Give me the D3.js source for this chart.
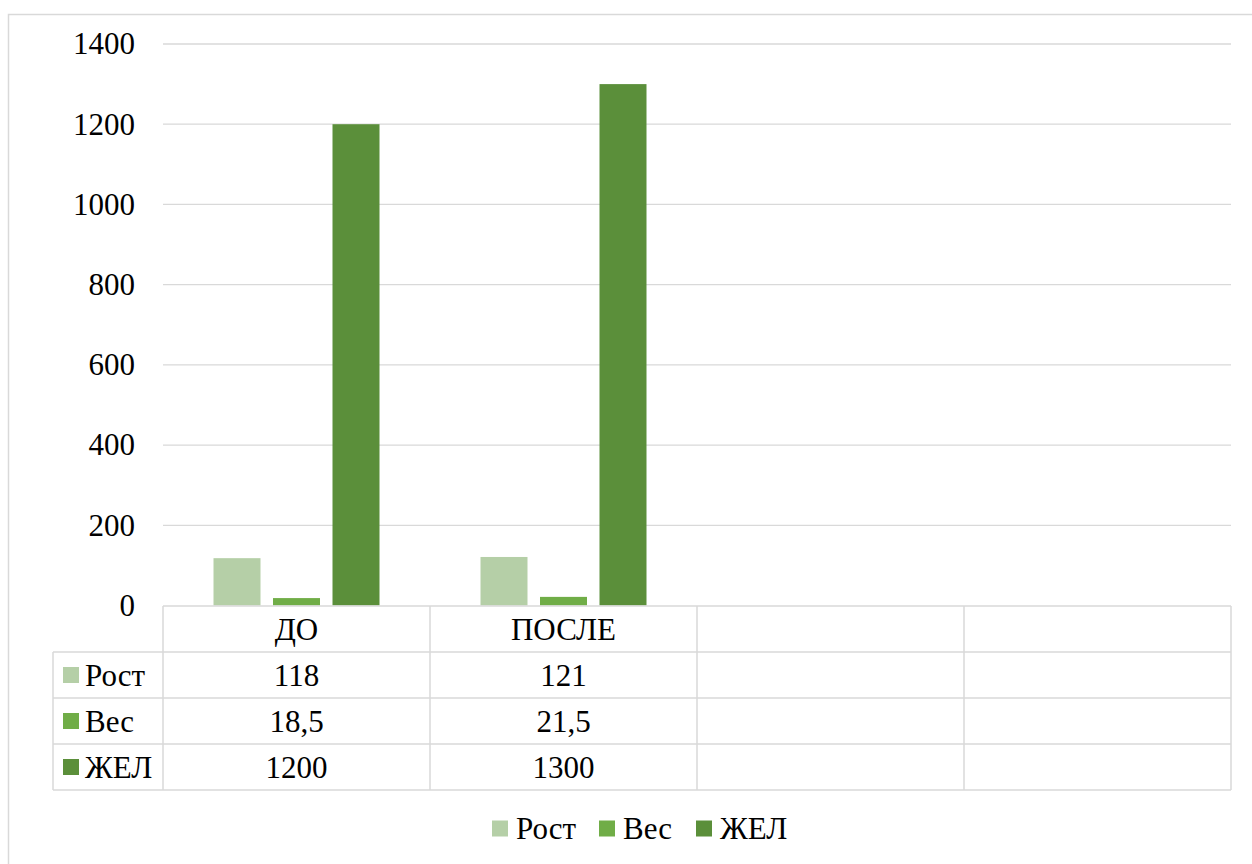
<!DOCTYPE html>
<html>
<head>
<meta charset="utf-8">
<script src="https://cdn.jsdelivr.net/npm/d3@7"></script>
</head>
<body>
<script>
// Column chart with a data table below the plot
const categories = ["ДО", "ПОСЛЕ", "", ""];
const seriesNames = ["Рост", "Вес", "ЖЕЛ"];
const rost = [118, 121, null, null];
const ves = [18.5, 21.5, null, null];
const zhel = [1200, 1300, null, null];
const yTicks = [0, 200, 400, 600, 800, 1000, 1200, 1400];
const seriesValues = [rost, ves, zhel];
const colors = ["#b5cfa7", "#70ad47", "#5b8f3a"];

const W = 1252, H = 864;
const serif = '"Liberation Serif", serif';
const fontSize = 31;
const grid = "#d9d9d9";

d3.select("body").style("margin", "0").style("background", "#fff");
const svg = d3.select("body").append("svg").attr("width", W).attr("height", H)
  .style("display", "block")
  .style("font-family", serif, "important");

// chart frame
svg.append("rect")
  .attr("x", 8.5).attr("y", 14.5).attr("width", 1300).attr("height", 900)
  .attr("fill", "#fff").attr("stroke", grid).attr("stroke-width", 1.5);

const plotLeft = 163, plotRight = 1231;
const y = d3.scaleLinear().domain([0, 1400]).range([605.5, 44]);
const x0 = d3.scaleBand().domain(d3.range(categories.length)).range([plotLeft, plotRight]);
const step = 59.5;
const pin = 12.5 / step;
const pout = (x0.bandwidth() / step - 3 + pin) / 2;
const x1 = d3.scaleBand().domain(d3.range(seriesNames.length))
  .range([0, x0.bandwidth()]).paddingInner(pin).paddingOuter(pout);

// gridlines
svg.append("g").selectAll("line").data(yTicks.filter(t => t > 0)).join("line")
  .attr("x1", plotLeft).attr("x2", plotRight)
  .attr("y1", d => y(d)).attr("y2", d => y(d))
  .attr("stroke", grid).attr("stroke-width", 1.3);

// y-axis labels
const yAxis = d3.axisLeft(y).tickValues(yTicks).tickFormat(d3.format("d"))
  .tickSize(0).tickPadding(28);
const gy = svg.append("g").attr("transform", `translate(${plotLeft},0)`).call(yAxis);
gy.attr("font-family", null).attr("font-size", null);
gy.select(".domain").remove();
gy.selectAll("text")
  .attr("font-size", fontSize)
  .style("font-family", serif, "important")
  .attr("fill", "#000");

// bars
seriesValues.forEach((vals, si) => {
  svg.append("g").selectAll("rect")
    .data(vals.map((v, i) => ({ v, i })).filter(d => d.v != null))
    .join("rect")
    .attr("x", d => x0(d.i) + x1(si))
    .attr("width", x1.bandwidth())
    .attr("y", d => y(d.v))
    .attr("height", d => y(0) - y(d.v))
    .attr("fill", colors[si]);
});

// data table
const tableLeft = 53;
const rowTop = [606, 652, 698, 744, 790];
const tg = svg.append("g").attr("stroke", grid).attr("stroke-width", 1.5).attr("fill", "none");
tg.append("line").attr("x1", plotLeft).attr("x2", plotRight).attr("y1", rowTop[0]).attr("y2", rowTop[0]);
rowTop.slice(1).forEach(r => {
  tg.append("line").attr("x1", tableLeft).attr("x2", plotRight).attr("y1", r).attr("y2", r);
});
tg.append("line").attr("x1", tableLeft).attr("x2", tableLeft).attr("y1", rowTop[1]).attr("y2", rowTop[4]);
d3.range(categories.length + 1).forEach(i => {
  const xx = i < categories.length ? x0(i) : plotRight;
  tg.append("line").attr("x1", xx).attr("x2", xx).attr("y1", rowTop[0]).attr("y2", rowTop[4]);
});

const cellText = (txt, cx, cy, anchor) => svg.append("text")
  .attr("x", cx).attr("y", cy).attr("dy", "0.35em")
  .attr("text-anchor", anchor || "middle")
  .attr("font-size", fontSize)
  .style("font-family", serif, "important")
  .text(txt);

categories.forEach((c, i) => {
  cellText(c, x0(i) + x0.bandwidth() / 2, (rowTop[0] + rowTop[1]) / 2);
});
const fmt = v => v == null ? "" : String(v).replace(".", ",");
seriesValues.forEach((vals, si) => {
  const cy = (rowTop[si + 1] + rowTop[si + 2]) / 2;
  svg.append("rect").attr("x", 63).attr("y", cy - 8).attr("width", 16).attr("height", 16).attr("fill", colors[si]);
  cellText(seriesNames[si], 85, cy, "start");
  vals.forEach((v, i) => cellText(fmt(v), x0(i) + x0.bandwidth() / 2, cy));
});

// legend
const legendX = [492, 599, 696];
const ly = 828.5;
seriesNames.forEach((n, i) => {
  svg.append("rect").attr("x", legendX[i]).attr("y", ly - 8).attr("width", 16).attr("height", 16).attr("fill", colors[i]);
  cellText(n, legendX[i] + 24, ly, "start");
});
</script>
</body>
</html>
